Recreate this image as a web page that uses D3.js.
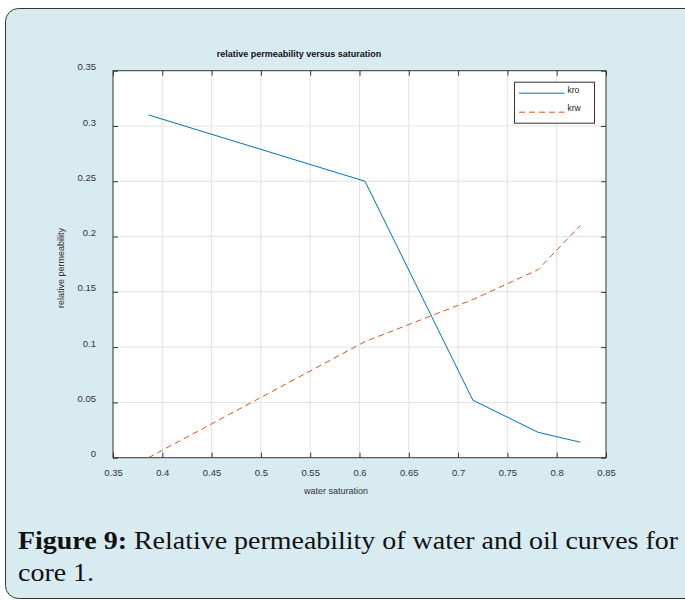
<!DOCTYPE html>
<html>
<head>
<meta charset="utf-8">
<script src="https://cdn.jsdelivr.net/npm/d3@7"></script>
<style>
  body { margin: 0; background: #fff; }
  text { font-family: "Liberation Sans", Arial, sans-serif; }
  text.caption { font-family: "Liberation Serif", serif; }
</style>
</head>
<body>
<div class="chart"></div>
<script>
// data
const sw  = [0.386, 0.6056, 0.715, 0.781, 0.824]
const kro = [0.310, 0.250, 0.052, 0.023, 0.014]
const krw = [0.000, 0.105, 0.143, 0.170, 0.210]
const xTicks = [0.35, 0.4, 0.45, 0.5, 0.55, 0.6, 0.65, 0.7, 0.75, 0.8, 0.85]
const yTicks = [0, 0.05, 0.1, 0.15, 0.2, 0.25, 0.3, 0.35]

const svgwidth = 685, svgheight = 601
const margin = ({top: 70.7, right: 79, bottom: 143.3, left: 113})
const width = svgwidth - margin.left - margin.right
const height = svgheight - margin.top - margin.bottom

const root = d3.select(".chart").append("svg")
    .attr("width", svgwidth)
    .attr("height", svgheight)

// card background
root.append("rect")
    .attr("x", 5.5).attr("y", 8.5)
    .attr("width", 700).attr("height", 590)
    .attr("rx", 13)
    .attr("fill", "#d8ebf1")
    .attr("stroke", "#333")
    .attr("stroke-width", 1)

const svg = root.append("g")
    .attr("transform", `translate(${margin.left},${margin.top})`)

const xScale = d3.scaleLinear().domain([0.35, 0.85]).range([0, width])
const yScale = d3.scaleLinear().domain([0, 0.35]).range([height, 0])

svg.append("rect")
    .attr("width", width).attr("height", height)
    .attr("fill", "white")

// grid
svg.append("g").selectAll("line")
    .data(xTicks.slice(1, -1))
    .enter().append("line")
    .attr("x1", d => xScale(d)).attr("x2", d => xScale(d))
    .attr("y1", 0).attr("y2", height)
    .attr("stroke", "#e2e2e2")
svg.append("g").selectAll("line")
    .data(yTicks.slice(1, -1))
    .enter().append("line")
    .attr("y1", d => yScale(d)).attr("y2", d => yScale(d))
    .attr("x1", 0).attr("x2", width)
    .attr("stroke", "#e2e2e2")

// axes with inward ticks, matlab style
const fmt = d => String(d)
const xAxis = d3.axisBottom(xScale).tickValues(xTicks).tickFormat(fmt).tickSizeInner(-5).tickSizeOuter(0).tickPadding(12)
const yAxis = d3.axisLeft(yScale).tickValues(yTicks).tickFormat(fmt).tickSizeInner(-5).tickSizeOuter(0).tickPadding(17)
const xTop = d3.axisTop(xScale).tickValues(xTicks).tickSizeInner(-5).tickSizeOuter(0).tickFormat("")
const yRight = d3.axisRight(yScale).tickValues(yTicks).tickSizeInner(-5).tickSizeOuter(0).tickFormat("")

svg.append("g")
    .attr("class", "axis x-axis")
    .attr("transform", `translate(0, ${height})`)
    .call(xAxis)
svg.append("g")
    .attr("class", "axis y-axis")
    .call(yAxis)
svg.append("g").call(xTop)
svg.append("g").attr("transform", `translate(${width},0)`).call(yRight)

svg.selectAll(".axis text")
    .attr("font-size", 9.5)
    .attr("fill", "#333")
svg.selectAll(".y-axis text").attr("dy", "-0.1em")
svg.selectAll(".domain").remove()
svg.selectAll(".tick line").attr("stroke", "#333")

// box
svg.append("rect")
    .attr("width", width).attr("height", height)
    .attr("fill", "none")
    .attr("stroke", "#333")
    .attr("stroke-width", 1)

const line = d3.line()
const kroPts = sw.map((d, i) => [xScale(d), yScale(kro[i])])
const krwPts = sw.map((d, i) => [xScale(d), yScale(krw[i])])

svg.append("path")
    .attr("d", line(kroPts))
    .attr("fill", "none")
    .attr("stroke", "#0072bd")
    .attr("stroke-width", 1)
svg.append("path")
    .attr("d", line(krwPts))
    .attr("fill", "none")
    .attr("stroke", "#d95319")
    .attr("stroke-width", 1)
    .attr("stroke-dasharray", "6,4")

// legend
const leg = svg.append("g").attr("transform", `translate(${width - 91.5}, 11.5)`)
leg.append("rect")
    .attr("width", 80).attr("height", 41)
    .attr("fill", "white").attr("stroke", "#333")
leg.append("line").attr("x1", 4.5).attr("x2", 50).attr("y1", 11).attr("y2", 11)
    .attr("stroke", "#0072bd")
leg.append("line").attr("x1", 4.5).attr("x2", 50).attr("y1", 30).attr("y2", 30)
    .attr("stroke", "#d95319").attr("stroke-dasharray", "6,4")
leg.append("text").attr("x", 53).attr("y", 11).text("kro")
    .attr("font-size", 8.5).attr("fill", "#222")
leg.append("text").attr("x", 53).attr("y", 29).text("krw")
    .attr("font-size", 8.5).attr("fill", "#222")

// labels
root.append("text")
    .attr("x", 299).attr("y", 57)
    .attr("text-anchor", "middle")
    .attr("font-size", 9)
    .attr("font-weight", "bold")
    .attr("fill", "#111")
    .text("relative permeability versus saturation")
root.append("text")
    .attr("x", 336).attr("y", 494)
    .attr("text-anchor", "middle")
    .attr("font-size", 9)
    .attr("fill", "#333")
    .text("water saturation")
root.append("text")
    .attr("transform", "translate(64, 268) rotate(-90)")
    .attr("text-anchor", "middle")
    .attr("font-size", 9)
    .attr("fill", "#333")
    .text("relative permeability")

// caption (stretched a bit, the original font is wider than Times)
const cap = root.append("text")
    .attr("class", "caption")
    .attr("x", 18).attr("y", 549)
    .attr("font-size", 25)
    .attr("fill", "#111")
cap.append("tspan").attr("font-weight", "bold").text("Figure 9:")
cap.append("tspan").text(" Relative permeability of water and oil curves for")
const cap2 = root.append("text")
    .attr("class", "caption")
    .attr("x", 18).attr("y", 581)
    .attr("font-size", 25)
    .attr("fill", "#111")
    .text("core 1.")

const natural = cap.node().getComputedTextLength()
const stretch = 660 / natural
cap.attr("textLength", 660).attr("lengthAdjust", "spacingAndGlyphs")
cap2.attr("textLength", cap2.node().getComputedTextLength() * stretch).attr("lengthAdjust", "spacingAndGlyphs")
</script>
</body>
</html>
